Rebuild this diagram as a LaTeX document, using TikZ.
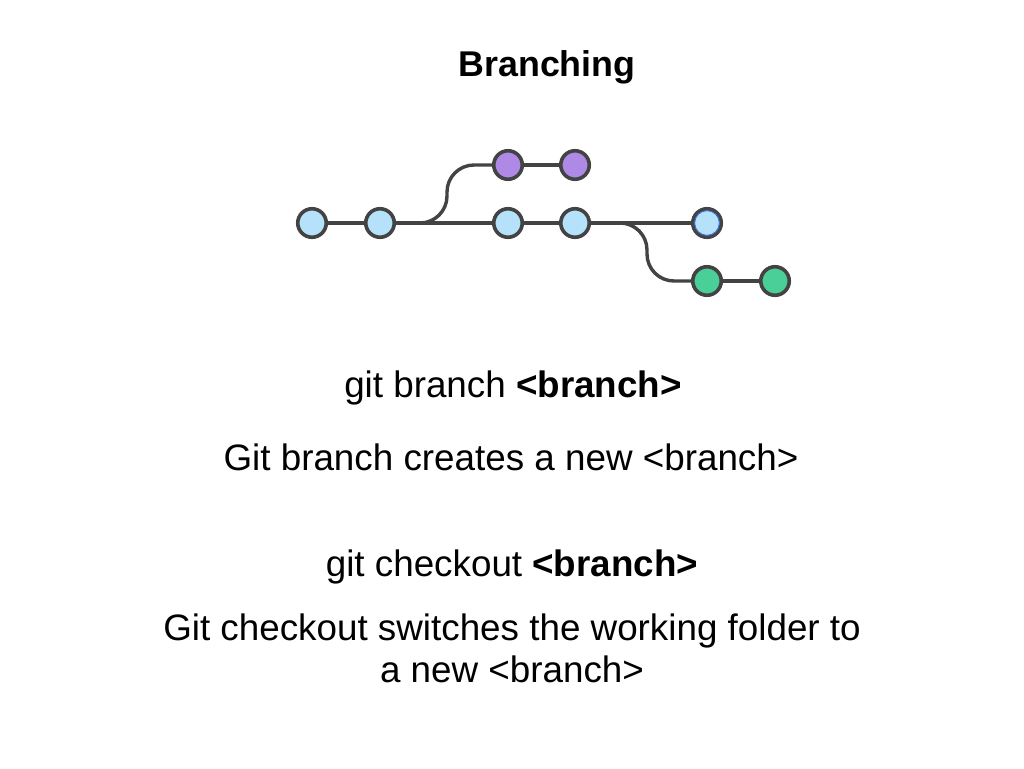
\documentclass[tikz,border=0pt]{standalone}
\usepackage{fontspec}
\setmainfont{Liberation Sans}
\begin{document}
\begin{tikzpicture}[x=1pt,y=-1pt,
  commit/.style={circle,draw=edge,line width=3.6pt,minimum size=28.5pt,inner sep=0pt},
  mainc/.style={commit,fill=mainblue},
  featc/.style={commit,fill=featpurple},
  fixc/.style={commit,fill=fixgreen},
  link/.style={draw=edge,line width=3.4pt},
  txt/.style={font=\fontsize{36.8}{42}\selectfont,align=center,inner sep=0pt}]
\definecolor{edge}{HTML}{434343}
\definecolor{mainblue}{HTML}{B5E2FA}
\definecolor{featpurple}{HTML}{AE89E5}
\definecolor{fixgreen}{HTML}{4ACF98}
\definecolor{ring}{HTML}{3F6FD8}
\useasboundingbox (0,0) rectangle (1024,768);

% title
\node[txt,font=\fontsize{35.8}{40}\selectfont\bfseries] (title) at (547,67) {Branching};

% connectors (drawn first, commits on top)
\draw[link] (312,223) -- (707,223);
\draw[link,rounded corners=27pt] (400,223) -- (447,223) -- (447,165) -- (508,165);
\draw[link] (508,165) -- (575,165);
\draw[link,rounded corners=27pt] (600,223) -- (647,223) -- (647,281) -- (707,281);
\draw[link] (707,281) -- (775,281);

% commits
\node[mainc] (m1) at (312,223) {};
\node[mainc] (m2) at (380,223) {};
\node[mainc] (m3) at (508,223) {};
\node[mainc] (m4) at (575,223) {};
\node[mainc] (m5) at (707,223) {};
\draw[ring,line width=1pt] (m5.center) circle (12.4pt);
\node[featc] (f1) at (508,165) {};
\node[featc] (f2) at (575,165) {};
\node[fixc] (g1) at (707,281) {};
\node[fixc] (g2) at (775,281) {};

% commands and descriptions
\node[txt] (cmd1) at (513,388) {git branch \textbf{<branch>}};
\node[txt] (desc1) at (511,457) {Git branch creates a new <branch>};
\node[txt] (cmd2) at (512,567) {git checkout \textbf{<branch>}};
\node[txt] (desc2) at (512,648) {Git checkout switches the working folder to\\a new <branch>};
\end{tikzpicture}
\end{document}
